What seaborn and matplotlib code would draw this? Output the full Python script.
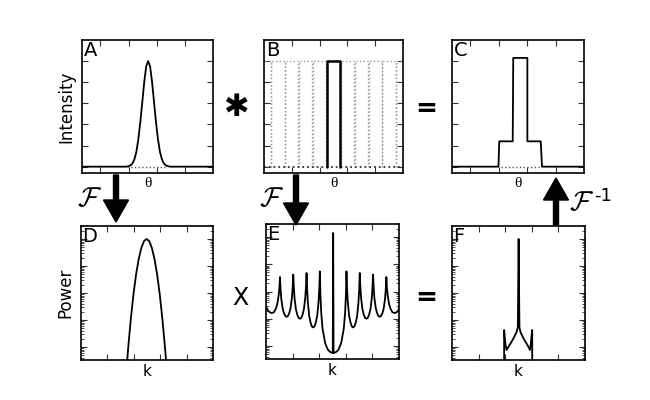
import numpy as np
import matplotlib
matplotlib.use("Agg")
import matplotlib.pyplot as plt
import seaborn as sns
from matplotlib.patches import FancyArrow
from matplotlib.ticker import LogLocator, NullFormatter

# x is given as a fraction of each panel's window, y read off the picture
# A: gaussian beam profile
a_x = [0.0, 0.34, 0.37, 0.385, 0.40, 0.415, 0.43, 0.445, 0.46, 0.475, 0.49, 0.505,
       0.52, 0.535, 0.55, 0.565, 0.58, 0.595, 0.61, 0.625, 0.64, 0.67, 1.0]
a_y = [0.0, 0.0, 0.012, 0.03, 0.07, 0.14, 0.26, 0.42, 0.61, 0.80, 0.95, 1.0,
       0.95, 0.80, 0.61, 0.42, 0.26, 0.14, 0.07, 0.03, 0.012, 0.0, 0.0]
a_dotted = [0.34, 0.645]

# B: boxcar plus its shifted copies
b_left, b_right, b_height = 0.455, 0.55, 1.0
b_copy_centers = [0.0, 0.1, 0.2, 0.3, 0.4, 0.6, 0.7, 0.8, 0.9, 1.0]
b_half_width = 0.0475

# C: result
c_x = [0.0, 0.352, 0.358, 0.46, 0.464, 0.571, 0.571, 0.672, 0.682, 1.0]
c_y = [0.0, 0.0, 0.24, 0.24, 1.03, 1.03, 0.24, 0.24, 0.0, 0.0]
c_dotted = [0.37, 0.67]

top_xticks = [0.14, 0.355, 0.57, 0.785]
top_yticks = [0.0, 0.2, 0.4, 0.6, 0.8, 1.0]

# D: power spectrum of A (log10 power)
d_x = [0.34, 0.357, 0.377, 0.397, 0.417, 0.437, 0.457, 0.477, 0.497,
       0.517, 0.537, 0.557, 0.577, 0.597, 0.617, 0.637, 0.654]
d_logp = [-5.1, -4.06, -2.98, -2.07, -1.32, -0.75, -0.33, -0.08, 0.0,
          -0.08, -0.33, -0.75, -1.32, -2.07, -2.98, -4.06, -5.1]

# E: filter (log10 power)
e_x = [0.0, 0.015, 0.03, 0.045, 0.06, 0.075, 0.085, 0.095, 0.101, 0.105,
       0.109, 0.115, 0.125, 0.135, 0.145, 0.155, 0.165, 0.175, 0.185, 0.195, 0.201, 0.205,
       0.209, 0.215, 0.225, 0.235, 0.245, 0.255, 0.265, 0.275, 0.285, 0.295, 0.301, 0.305,
       0.309, 0.315, 0.325, 0.335, 0.345, 0.355, 0.365, 0.375, 0.385, 0.395, 0.401, 0.405,
       0.409, 0.415, 0.425, 0.445, 0.465, 0.485, 0.502, 0.505, 0.508, 0.525, 0.545, 0.565,
       0.585, 0.595, 0.601, 0.605,
       0.609, 0.615, 0.625, 0.635, 0.645, 0.655, 0.665, 0.675, 0.685, 0.695, 0.701, 0.705,
       0.709, 0.715, 0.725, 0.735, 0.745, 0.755, 0.765, 0.775, 0.785, 0.795, 0.801, 0.805,
       0.809, 0.815, 0.825, 0.835, 0.845, 0.855, 0.865, 0.875, 0.885, 0.895, 0.901, 0.905,
       0.909, 0.915, 0.925, 0.935, 0.95, 0.965, 0.98, 0.995, 1.0]
e_logp = [-2.55, -2.70, -2.77, -2.79, -2.76, -2.62, -2.45, -2.15, -1.85, -1.47,
          -1.88, -2.27, -2.62, -2.80, -2.90, -2.93, -2.90, -2.79, -2.60, -2.23, -1.81, -1.38,
          -1.83, -2.27, -2.66, -2.85, -2.97, -3.00, -2.97, -2.85, -2.65, -2.24, -1.79, -1.32,
          -1.88, -2.42, -2.90, -3.14, -3.28, -3.32, -3.28, -3.13, -2.89, -2.39, -1.84, -1.26,
          -2.10, -2.76, -3.36, -3.90, -4.14, -4.23, -4.26, 0.15, -4.26, -4.23, -4.14, -3.90,
          -3.36, -2.76, -2.10, -1.26,
          -1.84, -2.39, -2.89, -3.13, -3.28, -3.32, -3.28, -3.14, -2.90, -2.42, -1.88, -1.32,
          -1.79, -2.24, -2.65, -2.85, -2.97, -3.00, -2.97, -2.85, -2.66, -2.27, -1.83, -1.38,
          -1.81, -2.23, -2.60, -2.79, -2.90, -2.93, -2.90, -2.80, -2.62, -2.27, -1.88, -1.47,
          -1.85, -2.15, -2.45, -2.62, -2.76, -2.79, -2.77, -2.70, -2.60]

# F: product D x E (log10 power)
f_x = [0.392, 0.392, 0.396, 0.402, 0.41, 0.43, 0.46, 0.485, 0.495, 0.501, 0.507,
       0.515, 0.54, 0.57, 0.586, 0.592, 0.598, 0.603, 0.603]
f_logp = [-5.0, -3.37, -3.6, -3.9, -4.11, -3.95, -3.7, -3.45, -3.27, 0.0, -3.27,
          -3.45, -3.7, -3.95, -4.11, -3.9, -3.6, -3.37, -5.0]

bottom_xticks = [0.2, 0.4, 0.6, 0.8]

sns.set_style("ticks")
plt.rcParams['font.family'] = ['DejaVu Sans']
plt.rcParams['mathtext.fontset'] = 'cm'
plt.rcParams['text.color'] = 'black'
plt.rcParams['axes.labelcolor'] = 'black'

W, H = 650, 400
fig = plt.figure(figsize=(6.5, 4), dpi=100)


def add_panel(left, top, right, bottom):
    return fig.add_axes([left / W, 1 - bottom / H, (right - left) / W, (bottom - top) / H])


def style(ax, letter, xticks):
    ax.set_xlim(0, 1)
    ax.set_xticks(xticks)
    ax.tick_params(which='both', direction='in', top=True, right=True,
                   labelbottom=False, labelleft=False, color='#333333')
    ax.tick_params(which='major', length=4, width=0.8)
    ax.tick_params(which='minor', length=2, width=0.6)
    for s in ax.spines.values():
        s.set_linewidth(1.2)
        s.set_color('black')
    ax.text(0.012, 0.995, letter, transform=ax.transAxes, ha='left', va='top', fontsize=14)


line = dict(color='black', sort=False, estimator=None, linewidth=1.3)

# top row
axA = add_panel(82, 40, 213, 173)
axB = add_panel(264, 40, 403, 173)
axC = add_panel(452, 40, 584, 173)

sns.lineplot(x=a_x, y=a_y, ax=axA, **line)
axA.plot(a_dotted, [0, 0], ls=':', color='#555555', lw=1)

for c in b_copy_centers:
    axB.plot([c - b_half_width, c - b_half_width, c + b_half_width, c + b_half_width],
             [0, b_height, b_height, 0], ls=':', color='#999999', lw=1)
axB.plot([0, 1], [0, 0], ls=':', color='#333333', lw=1.3)
sns.lineplot(x=[b_left, b_left, b_right, b_right], y=[0, b_height, b_height, 0],
             ax=axB, color='black', sort=False, estimator=None, linewidth=1.8)

sns.lineplot(x=c_x, y=c_y, ax=axC, **line)
axC.plot(c_dotted, [0, 0], ls=':', color='#555555', lw=1)

for ax, letter, xt in [(axA, 'A', top_xticks), (axB, 'B', [0.2, 0.4, 0.6, 0.8]), (axC, 'C', top_xticks)]:
    ax.set_ylim(-0.06, 1.2)
    ax.set_yticks(top_yticks)
    style(ax, letter, xt)
    ax.set_xlabel('\u03b8', fontsize=11, labelpad=3, family='Liberation Serif')
axA.set_ylabel('Intensity', fontsize=12, labelpad=5)

# bottom row
axD = add_panel(81, 226, 213, 360)
axE = add_panel(266, 224, 399, 359)
axF = add_panel(452, 226, 585, 360)

for ax, xs, lp, letter in [(axD, d_x, d_logp, 'D'), (axE, e_x, e_logp, 'E'), (axF, f_x, f_logp, 'F')]:
    sns.lineplot(x=xs, y=10.0 ** np.array(lp), ax=ax, **line)
    ax.set_yscale('log')
    ax.set_ylim(10 ** -4.48, 10 ** 0.48)
    ax.yaxis.set_major_locator(LogLocator(base=10, numticks=10))
    ax.yaxis.set_minor_locator(LogLocator(base=10, subs=np.arange(2, 10), numticks=10))
    ax.yaxis.set_minor_formatter(NullFormatter())
    style(ax, letter, bottom_xticks)
    ax.set_xlabel('k', fontsize=11, labelpad=3)
axD.set_ylabel('Power', fontsize=12, labelpad=5)


def ftext(x, y, s, **kw):
    fig.text(x / W, 1 - y / H, s, ha='center', va='center', **kw)


# operators
ftext(236, 108, '\u2731', fontsize=22)
ftext(426, 109, '=', fontsize=19, fontweight='bold')
ftext(240, 298, 'X', fontsize=17)
ftext(426, 298, '=', fontsize=19, fontweight='bold')

# Fourier transform arrows
for x0, y0, y1 in [(116, 175, 222), (296, 175, 225), (556, 225, 178)]:
    fig.add_artist(FancyArrow(x0 / 100, (H - y0) / 100, 0, -(y1 - y0) / 100, width=0.05,
                              head_width=0.25, head_length=0.22, length_includes_head=True,
                              color='black', transform=fig.dpi_scale_trans))
ftext(90, 198, r'$\mathcal{F}$', fontsize=20)
ftext(272, 198, r'$\mathcal{F}$', fontsize=20)
ftext(582, 202, r'$\mathcal{F}$', fontsize=20)
ftext(603, 196, '-1', fontsize=13)

plt.savefig('out.png', dpi=100)
